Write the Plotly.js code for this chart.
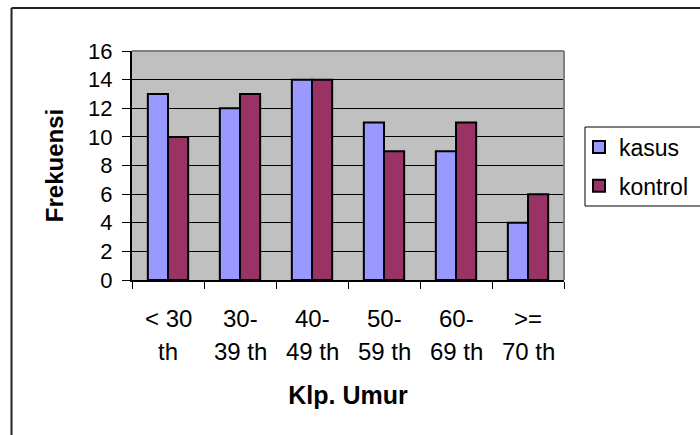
<!DOCTYPE html>
<html>
<head>
<meta charset="utf-8">
<script src="https://cdn.plot.ly/plotly-3.0.1.min.js"></script>
<style>
  html, body { margin: 0; padding: 0; background: #fff; }
  #chart { width: 700px; height: 435px; }
</style>
</head>
<body>
<div id="chart"></div>
<script>
// ---- data ----
var categories = ["< 30 th", "30-39 th", "40-49 th", "50-59 th", "60-69 th", ">= 70 th"];
var labelLine1 = ["< 30", "30-", "40-", "50-", "60-", ">="];
var labelLine2 = ["th", "39 th", "49 th", "59 th", "69 th", "70 th"];
var kasus = [13, 12, 14, 11, 9, 4];
var kontrol = [10, 13, 14, 9, 11, 6];
var yTicks = [0, 2, 4, 6, 8, 10, 12, 14, 16];

var FONT = "Arial, 'Liberation Sans', sans-serif";

var traces = [
  {
    type: "bar", name: "kasus", x: categories, y: kasus,
    marker: { color: "#9999FF", line: { color: "#000", width: 2 } },
    legendgroup: "a", hoverinfo: "skip"
  },
  {
    type: "bar", name: "kontrol", x: categories, y: kontrol,
    marker: { color: "#993366", line: { color: "#000", width: 2 } },
    legendgroup: "b", hoverinfo: "skip"
  }
];

var annotations = [];
for (var i = 0; i < categories.length; i++) {
  annotations.push({
    xref: "x", yref: "paper", x: categories[i], y: -0.170,
    text: labelLine1[i], showarrow: false, xanchor: "center", yanchor: "middle",
    font: { family: FONT, size: 24, color: "#000" }
  });
  annotations.push({
    xref: "x", yref: "paper", x: categories[i], y: -0.314,
    text: labelLine2[i], showarrow: false, xanchor: "center", yanchor: "middle",
    font: { family: FONT, size: 24, color: "#000" }
  });
}

var layout = {
  width: 700, height: 435,
  margin: { l: 132, r: 136, t: 51, b: 155, autoexpand: false },
  paper_bgcolor: "#fff",
  plot_bgcolor: "#C0C0C0",
  font: { family: FONT, color: "#000" },
  barmode: "group",
  bargap: 0.44,
  bargroupgap: 0,
  showlegend: true,
  legend: {
    x: 1.0347, y: 0.675, xanchor: "left", yanchor: "top",
    bgcolor: "rgba(0,0,0,0)", borderwidth: 0,
    font: { family: FONT, size: 23, color: "#000" },
    traceorder: "grouped", tracegroupgap: 6
  },
  xaxis: {
    type: "category",
    range: [-0.5, 5.5],
    tickson: "boundaries",
    ticks: "outside", ticklen: 7, tickwidth: 1, tickcolor: "#000",
    showticklabels: false,
    showgrid: false, zeroline: false,
    showline: true, linecolor: "#000", linewidth: 2,
    fixedrange: true,
    title: { text: "<b>Klp. Umur</b>", font: { family: FONT, size: 25, color: "#000" }, standoff: 105 }
  },
  yaxis: {
    range: [0, 16],
    tickvals: yTicks,
    ticktext: yTicks.map(String),
    ticks: "outside", ticklen: 8, tickwidth: 1, tickcolor: "#000",
    tickfont: { family: FONT, size: 22, color: "#000" },
    ticklabelstandoff: 5,
    showgrid: true, gridcolor: "#000", gridwidth: 1,
    zeroline: false,
    showline: true, linecolor: "#000", linewidth: 2,
    fixedrange: true,
    title: { text: "<b>Frekuensi</b>", font: { family: FONT, size: 24, color: "#000" }, standoff: 18 }
  },
  annotations: annotations,
  shapes: [
    // plot-area border (top and right), grey
    { type: "line", xref: "paper", yref: "paper", x0: 0, x1: 1, y0: 1, y1: 1, line: { color: "#808080", width: 2 }, layer: "above" },
    { type: "line", xref: "paper", yref: "paper", x0: 1, x1: 1, y0: 0, y1: 1, line: { color: "#808080", width: 2 }, layer: "above" },
    // legend box
    { type: "rect", xref: "paper", yref: "paper", x0: 1.0486, x1: 1.40, y0: 0.3231, y1: 0.6681, line: { color: "#000", width: 1 }, fillcolor: "rgba(0,0,0,0)", layer: "above" },
    // chart outer frame (left and top visible)
    { type: "line", xref: "paper", yref: "paper", x0: -0.2789, x1: -0.2789, y0: -1, y1: 1.1878, line: { color: "#222", width: 2 }, layer: "above" },
    { type: "line", xref: "paper", yref: "paper", x0: -0.2789, x1: 1.5, y0: 1.1878, y1: 1.1878, line: { color: "#222", width: 2 }, layer: "above" }
  ]
};

Plotly.newPlot("chart", traces, layout, { staticPlot: true, displayModeBar: false });
</script>
</body>
</html>
